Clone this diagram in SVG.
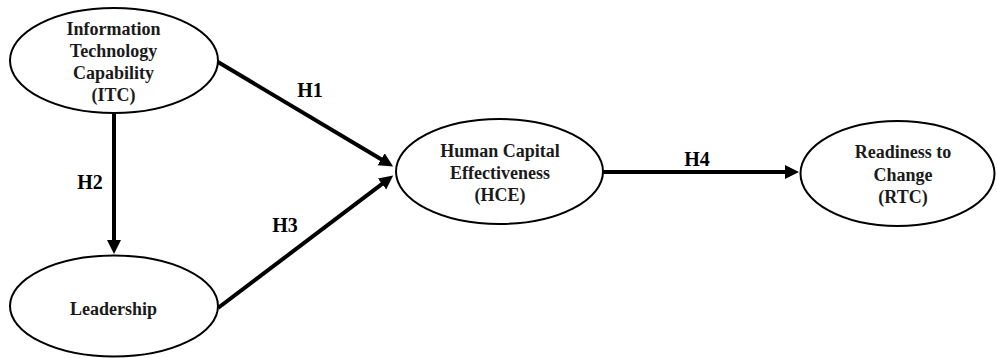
<svg xmlns="http://www.w3.org/2000/svg" width="997" height="358" viewBox="0 0 997 358">
<style>
.node{fill:#fff;stroke:#000;stroke-width:2}
.lbl{font-family:"Liberation Serif","Times New Roman",serif;font-weight:bold;font-size:18px;fill:#1a1a1a;text-anchor:middle}
.hl{font-family:"Liberation Serif","Times New Roman",serif;font-weight:bold;font-size:20px;fill:#000;text-anchor:middle}
.edge{stroke:#000;stroke-width:4;fill:none}
</style>
<defs>
<marker id="arr" markerUnits="userSpaceOnUse" markerWidth="16" markerHeight="16" refX="1" refY="7" orient="auto">
<path d="M0,0 L14,7 L0,14 z" fill="#000"/>
</marker>
</defs>
<rect width="997" height="358" fill="#fff"/>
<g id="connectors">
<line class="edge" x1="218" y1="62" x2="382" y2="159.8" marker-end="url(#arr)"/>
<line class="edge" x1="114" y1="113" x2="114" y2="241" marker-end="url(#arr)"/>
<line class="edge" x1="218" y1="308" x2="382.8" y2="183.4" marker-end="url(#arr)"/>
<line class="edge" x1="603" y1="172" x2="786" y2="172" marker-end="url(#arr)"/>
<text class="hl" x="310" y="97">H1</text>
<text class="hl" x="90" y="189">H2</text>
<text class="hl" x="285" y="232">H3</text>
<text class="hl" x="697" y="166">H4</text>
</g>
<g id="ITC">
<ellipse class="node" cx="114" cy="60.5" rx="104" ry="52.5"/>
<text class="lbl" x="113.5" y="35">Information</text>
<text class="lbl" x="113.5" y="57">Technology</text>
<text class="lbl" x="113.5" y="79">Capability</text>
<text class="lbl" x="113.5" y="101">(ITC)</text>
</g>
<g id="Leadership">
<ellipse class="node" cx="114" cy="306" rx="104" ry="50.5"/>
<text class="lbl" x="113.5" y="315">Leadership</text>
</g>
<g id="HCE">
<ellipse class="node" cx="499.5" cy="171.5" rx="103.5" ry="52.5"/>
<text class="lbl" x="500" y="157">Human Capital</text>
<text class="lbl" x="500" y="179">Effectiveness</text>
<text class="lbl" x="500" y="201">(HCE)</text>
</g>
<g id="RTC">
<ellipse class="node" cx="897.5" cy="173.5" rx="97" ry="52.5"/>
<text class="lbl" x="903" y="158">Readiness to</text>
<text class="lbl" x="903" y="181">Change</text>
<text class="lbl" x="903" y="203">(RTC)</text>
</g>
</svg>
